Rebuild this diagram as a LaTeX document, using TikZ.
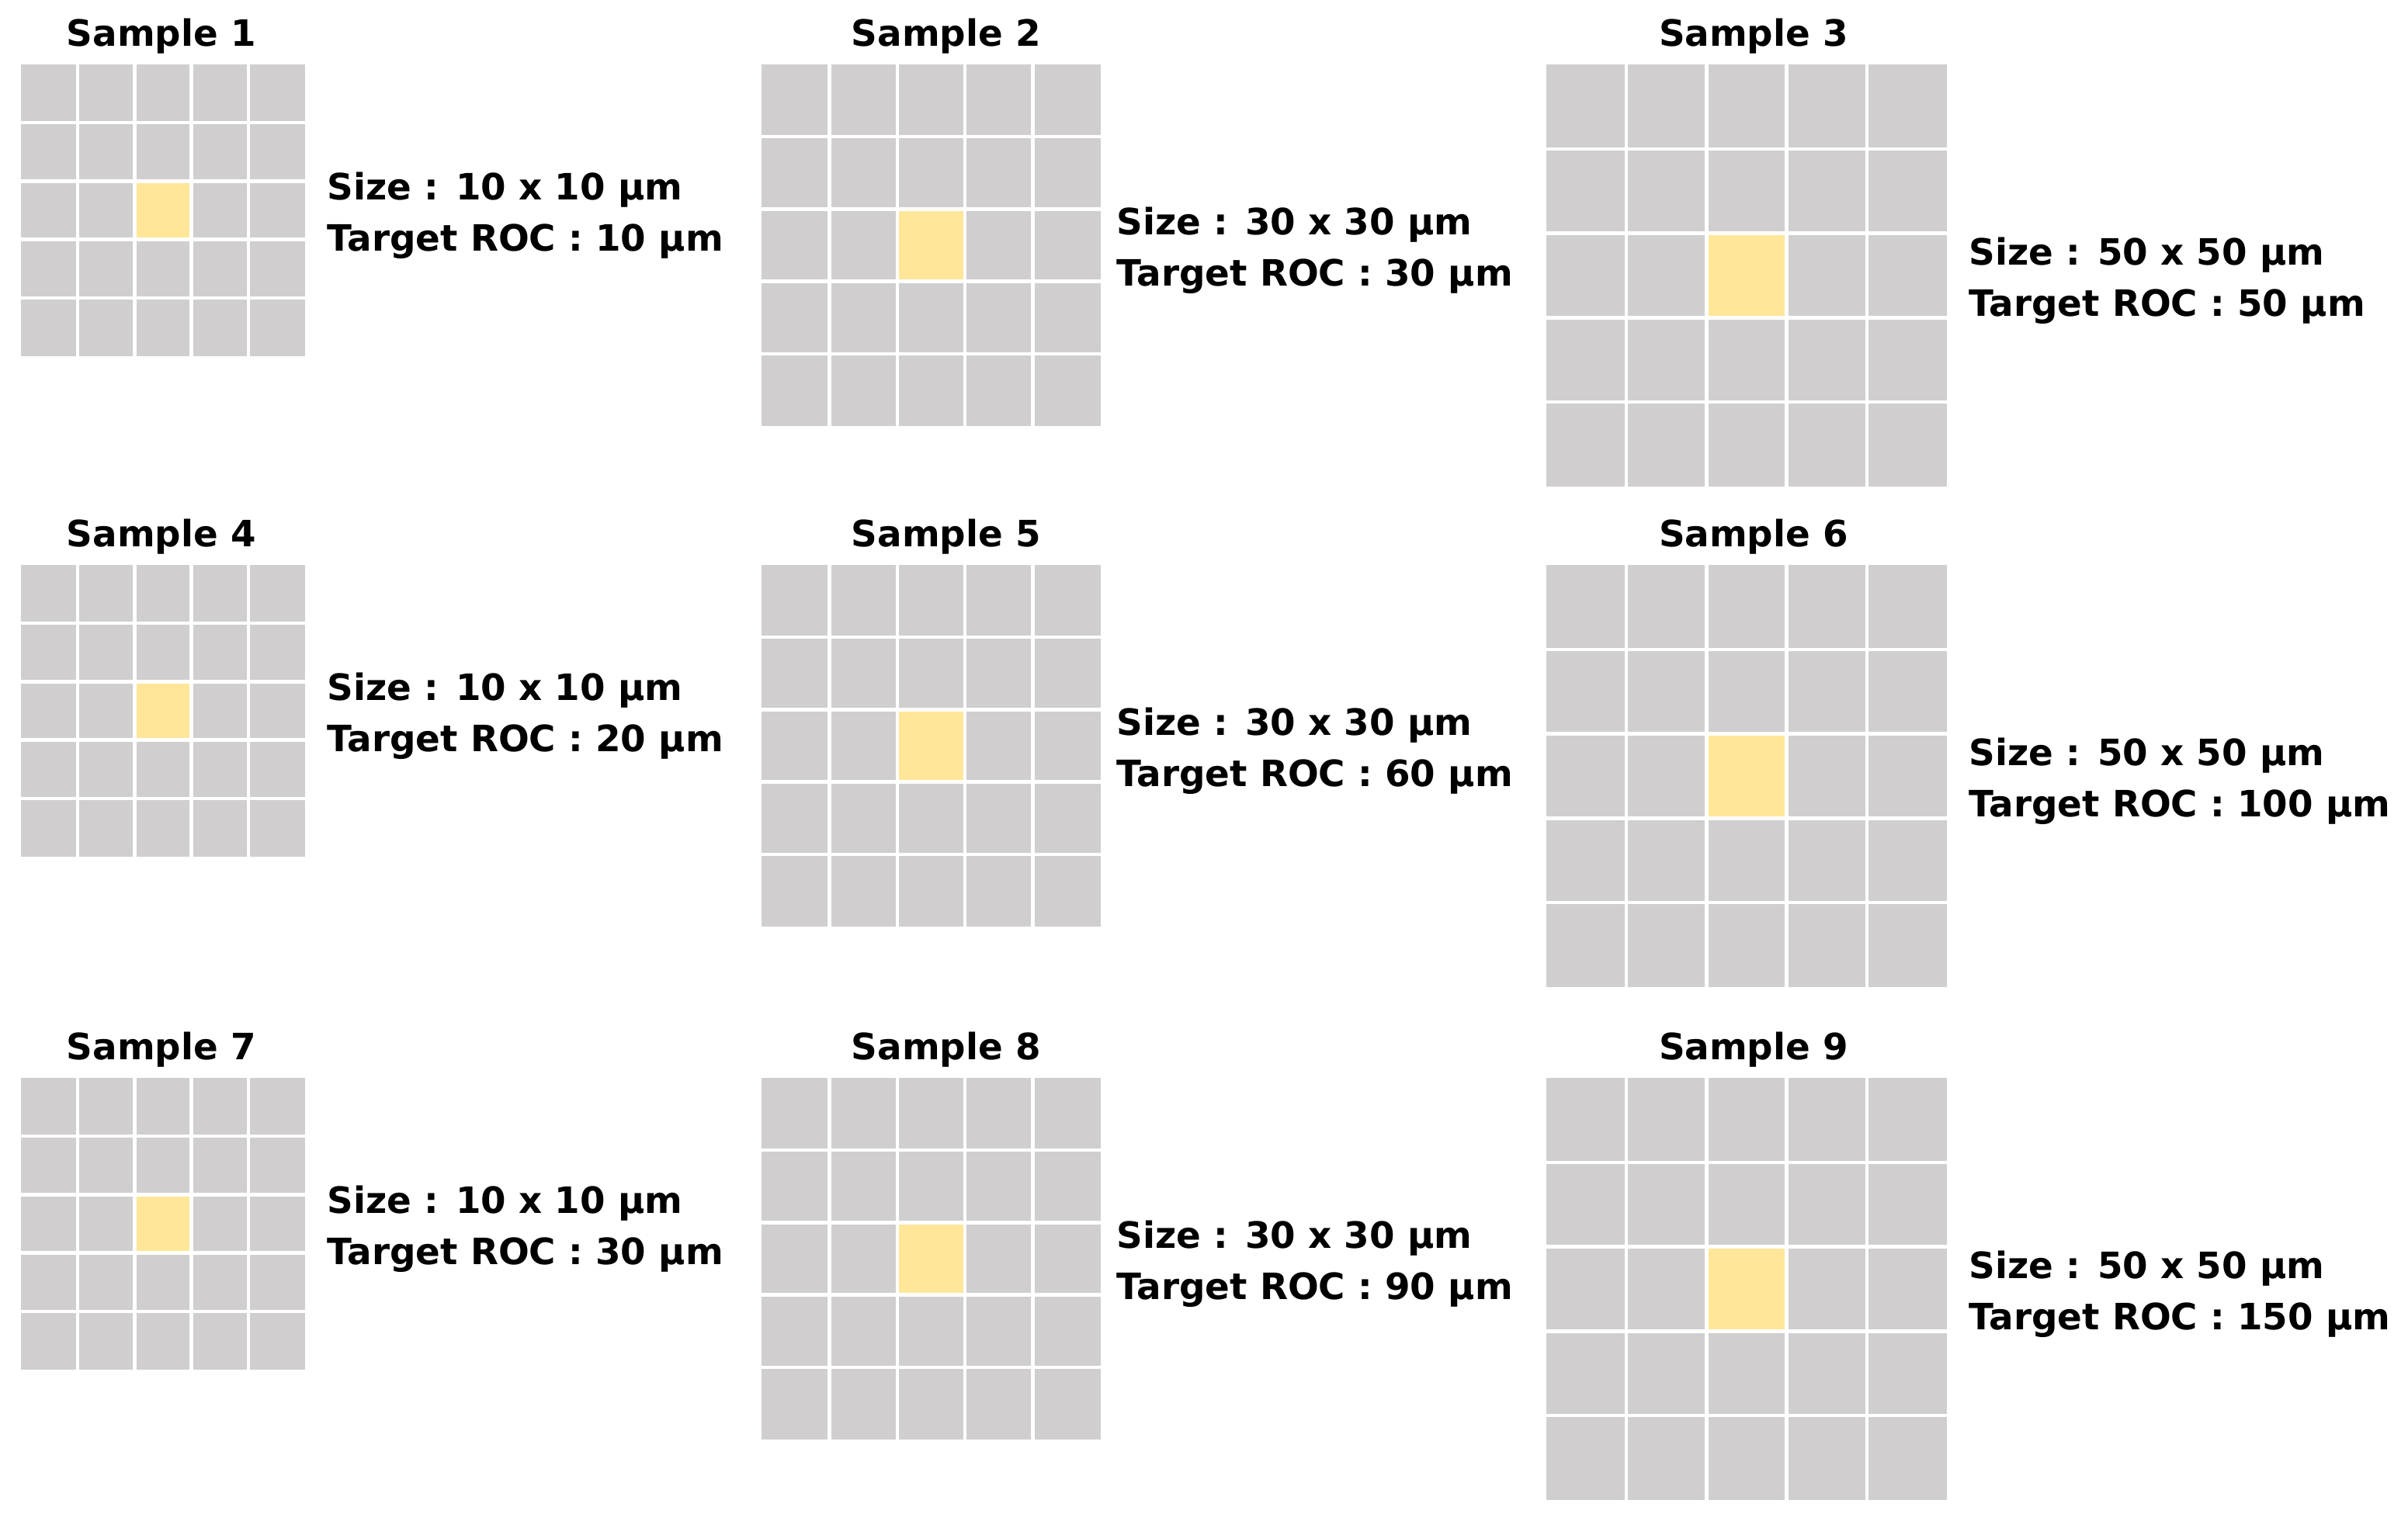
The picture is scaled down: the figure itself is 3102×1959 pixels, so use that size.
\documentclass[tikz,border=0pt]{standalone}
\usepackage{fontspec}
\setmainfont{DejaVu Sans}
\definecolor{cellgray}{HTML}{D0CECE}
\definecolor{cellyellow}{HTML}{FFE699}
\tikzset{
  lbl/.style={font=\fontsize{13.3}{16}\selectfont\bfseries, inner sep=0pt, anchor=base west},
  ttl/.style={font=\fontsize{13.3}{16}\selectfont\bfseries, inner sep=0pt, anchor=base},
  gridline/.style={white, line width=1.25pt},
}
\def\tgap{28}
% #1 name, #2 x0, #3 y0, #4 w, #5 h, #6 title x, #7 number, #8 size, #9 roc
\newcommand\drawsample[9]{%
  \fill[cellgray] (#2,#3) rectangle ++(#4,#5);
  \fill[cellyellow] ({#2+0.4*#4},{#3+0.4*#5}) rectangle ({#2+0.6*#4},{#3+0.6*#5});
  \foreach \k in {1,...,4} {
    \draw[gridline] ({#2+\k*#4/5},#3) -- ++(0,#5);
    \draw[gridline] (#2,{#3+\k*#5/5}) -- ++(#4,0);
  }
  \node[ttl] (#1t) at (#6,{#3-24}) {Sample #7};
  \node[lbl] (#1a) at ({#2+#4+\tgap},{#3+#5/2-14}) {Size : #8 µm};
  \node[lbl] (#1b) at ({#2+#4+\tgap},{#3+#5/2+52}) {Target ROC : #9 µm};
}
\begin{document}
\begin{tikzpicture}[x=0.01cm,y=-0.01cm]
  \useasboundingbox (0,0) rectangle (3102,1959);
  \def\tgap{28}
  \drawsample{s1}{27}{83}{366}{376}{208}{1}{10 x 10}{10}
  \drawsample{s4}{27}{728}{366}{376}{208}{4}{10 x 10}{20}
  \drawsample{s7}{27}{1389}{366}{376}{208}{7}{10 x 10}{30}
  \def\tgap{20}
  \drawsample{s2}{981}{83}{437}{466}{1219}{2}{30 x 30}{30}
  \drawsample{s5}{981}{728}{437}{466}{1219}{5}{30 x 30}{60}
  \drawsample{s8}{981}{1389}{437}{466}{1219}{8}{30 x 30}{90}
  \def\tgap{28}
  \drawsample{s3}{1992}{83}{516}{544}{2259}{3}{50 x 50}{50}
  \drawsample{s6}{1992}{728}{516}{544}{2259}{6}{50 x 50}{100}
  \drawsample{s9}{1992}{1389}{516}{544}{2259}{9}{50 x 50}{150}
\end{tikzpicture}
\end{document}
